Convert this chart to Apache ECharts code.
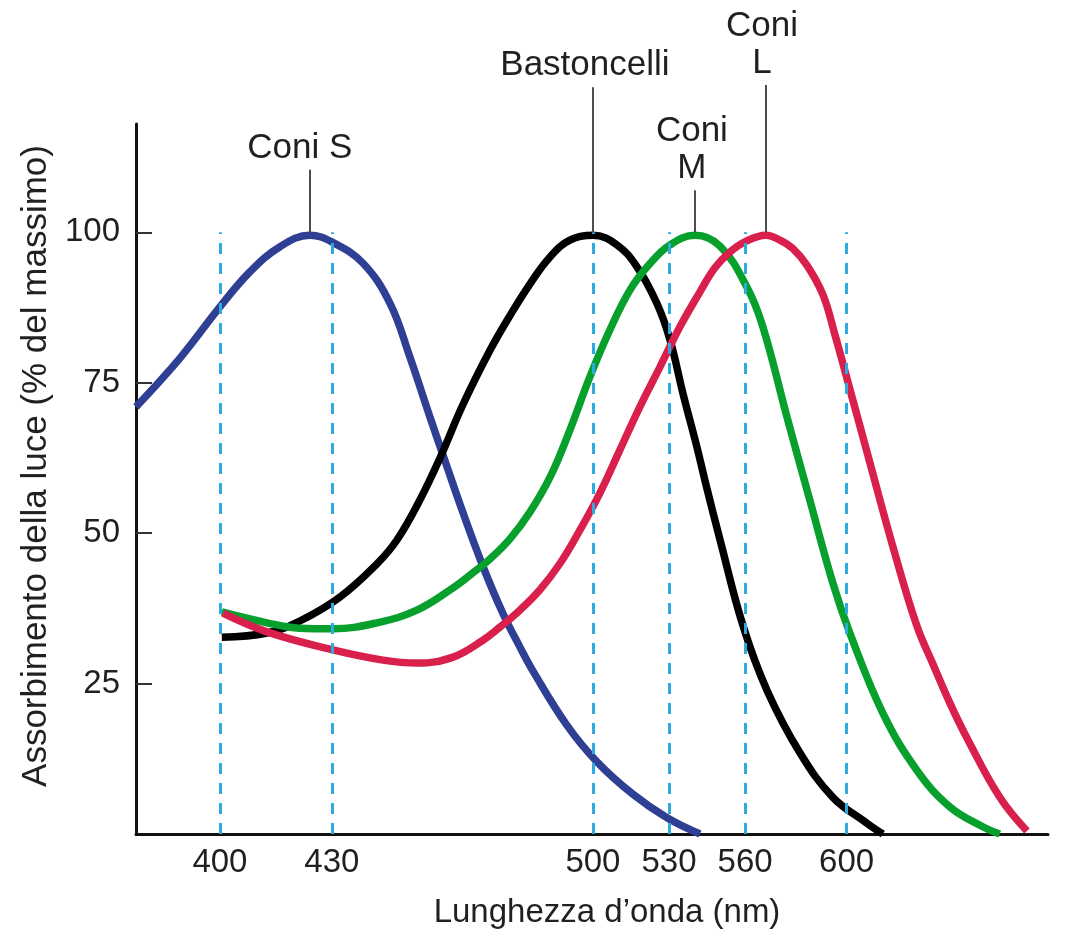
<!DOCTYPE html>
<html>
<head>
<meta charset="utf-8">
<title>Assorbimento della luce</title>
<script src="https://cdn.jsdelivr.net/npm/echarts@6/dist/echarts.min.js"></script>
<style>
  html, body { margin: 0; padding: 0; background: #fff; }
  #chart { width: 1089px; height: 940px; }
</style>
</head>
<body>
<div id="chart"></div>
<script>
// lunghezze d'onda segnate sull'asse (nm)
const waveTicks = [400, 430, 500, 530, 560, 600]
const yTicks = [25, 50, 75, 100]

// curve: [lunghezza d'onda nm, % del massimo]
const coniS = [[377.5, 71], [389.3, 79.1], [400, 87.6], [408, 93.4], [416.1, 97.6], [424.1, 99.5], [430, 98.4],
  [438.3, 94.9], [445.6, 88.2], [450.9, 79.3], [456.3, 69.3], [459.8, 63], [465.1, 53.5], [470.5, 44.5],
  [475.9, 36.6], [480.4, 31.1], [483.9, 27.1], [493, 18.1], [501.6, 12], [515.8, 6.6], [529.2, 2.7], [542.2, 0]]
const bastoncelli = [[400.5, 32.7], [412.6, 33.4], [421.4, 35.4], [432.2, 39.4], [442.1, 44.9], [447.5, 48.9],
  [453.6, 55.5], [459, 62.5], [465.1, 71.3], [472.4, 80.4], [477.7, 86.1], [483.1, 91.4], [488.5, 95.9],
  [493.8, 98.7], [500, 99.5], [509.5, 97.9], [517.3, 94.3], [525.2, 88.2], [530.4, 82.1], [535.5, 73.2],
  [541, 64.3], [544.9, 57.5], [550.1, 48.9], [559.1, 34.7], [568.6, 23.9], [581.6, 13.5], [594.6, 6.1],
  [608, 1.8], [614.3, 0]]
const coniM = [[400.5, 36.9], [412.6, 35.1], [421.4, 34.2], [430.3, 34.1], [442.1, 35.1], [452.8, 37.2],
  [462.5, 40.9], [467, 43], [472.4, 45.7], [477.7, 49], [483.1, 53.5], [488.5, 59.3], [493.8, 67.1],
  [499.2, 76], [506.7, 83.8], [514.6, 90.4], [522.5, 94.8], [530.4, 97.9], [540.2, 99.5], [550.1, 97.7],
  [560.7, 90.9], [567, 84.3], [576.5, 69.3], [585.5, 55.5], [594.6, 41.7], [601.3, 33.4], [614.3, 20.1],
  [627.7, 10.6], [640.7, 4.5], [653.7, 1.2], [660.4, 0]]
const coniL = [[400.8, 36.7], [412.6, 33.6], [430.3, 30.6], [443.7, 28.9], [452.8, 28.4], [462.5, 29.4],
  [470.5, 32.2], [475.1, 34.4], [480.4, 37.2], [485.8, 40.6], [491.2, 45], [496.5, 50.5], [502.8, 56.7],
  [510.6, 63.8], [518.5, 71], [526.4, 77.6], [534.3, 84.3], [542.2, 90.1], [548.1, 94.1], [554, 96.7],
  [559.9, 98.4], [568.2, 99.5], [573.7, 98.7], [578.8, 97.3], [584.4, 94.5], [590.7, 89.6], [595.4, 83],
  [600.1, 75.8], [609.2, 61.7], [618.3, 47.7], [627.7, 34.6], [634, 28.3], [640.7, 21.8], [647.4, 16],
  [660.4, 6.1], [671.1, 0.5]]

const names = ['Coni S', 'Bastoncelli', 'Coni\nM', 'Coni\nL']
const peaks = [424.1, 500, 540.2, 568.2]

// la scala della figura non è lineare: sopra i 500 nm è compressa
const SPLIT = 500
const RATIO = 0.68
function pos(w) { return w <= SPLIT ? w : SPLIT + (w - SPLIT) * RATIO }
function wave(p) { return p <= SPLIT ? p : SPLIT + (p - SPLIT) / RATIO }

const FONT = '"Liberation Sans", Arial, Helvetica, sans-serif'
const TEXT = '#231f20'

// griglia principale e griglia più alta (stessa scala) per le etichette sopra il grafico
const Y_MAX = 118
const Y_MAX_TOP = 136
const GRID_TOP = 124
const GRID_BOTTOM = 106
const pxPerUnit = (940 - GRID_TOP - GRID_BOTTOM) / Y_MAX
const gridTop2 = 940 - GRID_BOTTOM - Y_MAX_TOP * pxPerUnit

function curve(i, data, color) {
  return {
    name: names[i],
    type: 'line',
    data: data.map(d => [pos(d[0]), d[1]]),
    smooth: 0.4,
    smoothConstraint: false,
    showSymbol: false,
    z: 3,
    emphasis: { disabled: true },
    lineStyle: { color: color, width: 7.5 }
  }
}

// top = fine della linea di richiamo, shift = spostamento del testo a sinistra
function label(i, top, shift) {
  return {
    type: 'line',
    xAxisIndex: 1,
    yAxisIndex: 1,
    data: [],
    markLine: {
      silent: true,
      symbol: 'none',
      lineStyle: { color: '#4d4d4d', width: 2, type: 'solid' },
      label: {
        show: true, position: 'end', formatter: names[i], distance: 3,
        padding: [0, shift * 2, 0, 0],
        fontFamily: FONT, fontSize: 35, color: TEXT, lineHeight: 37
      },
      data: [[{ coord: [pos(peaks[i]), 100] }, { coord: [pos(peaks[i]), top] }]]
    }
  }
}

const chart = echarts.init(document.getElementById('chart'))
chart.setOption({
  animation: false,
  backgroundColor: '#fff',
  grid: [
    { left: 136, right: 41, top: GRID_TOP, bottom: GRID_BOTTOM },
    { left: 136, right: 41, top: gridTop2, bottom: GRID_BOTTOM }
  ],
  xAxis: [{
    type: 'value',
    min: 377.5,
    max: 622,
    name: 'Lunghezza d’onda (nm)',
    nameLocation: 'middle',
    nameGap: 62,
    nameTextStyle: { fontFamily: FONT, fontSize: 33, color: TEXT, padding: [0, 0, 0, 30] },
    axisLine: { lineStyle: { color: '#111', width: 3 } },
    axisTick: { show: false },
    splitLine: { show: false },
    axisLabel: {
      customValues: waveTicks.map(pos),
      formatter: v => String(Math.round(wave(v))),
      margin: 12,
      fontFamily: FONT, fontSize: 33, color: TEXT
    }
  }, {
    type: 'value', gridIndex: 1, min: 377.5, max: 622, show: false
  }],
  yAxis: [{
    type: 'value',
    min: 0,
    max: Y_MAX,
    name: 'Assorbimento della luce (% del massimo)',
    nameLocation: 'middle',
    nameGap: 82,
    nameTextStyle: { fontFamily: FONT, fontSize: 35, color: TEXT, padding: [0, 0, 0, 26] },
    axisLine: { show: true, lineStyle: { color: '#111', width: 3 } },
    axisTick: { show: true, inside: true, length: 16, customValues: yTicks, lineStyle: { color: '#333', width: 2 } },
    splitLine: { show: false },
    axisLabel: { customValues: yTicks, margin: 16, fontFamily: FONT, fontSize: 33, color: TEXT }
  }, {
    type: 'value', gridIndex: 1, min: 0, max: Y_MAX_TOP, show: false
  }],
  series: [
    {
      type: 'line',
      data: [],
      z: 1,
      markLine: {
        silent: true,
        symbol: 'none',
        label: { show: false },
        lineStyle: { color: '#2eaae2', width: 3, type: [11, 9] },
        data: waveTicks.map(w => [{ coord: [pos(w), 0] }, { coord: [pos(w), 100] }])
      }
    },
    curve(0, coniS, '#2f3f94'),
    curve(1, bastoncelli, '#000000'),
    curve(2, coniM, '#08a02c'),
    curve(3, coniL, '#d9204c'),
    label(0, 110.4, 10),
    label(1, 124.1, 8),
    label(2, 107, 3),
    label(3, 124.5, 4)
  ]
})
</script>
</body>
</html>
